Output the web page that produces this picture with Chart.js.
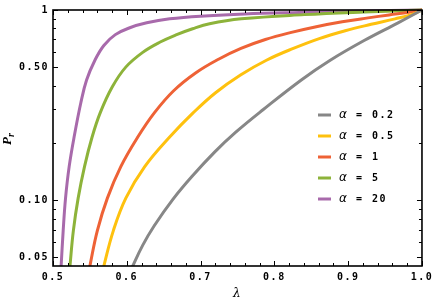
<!DOCTYPE html>
<html>
<head>
<meta charset="utf-8">
<script src="https://cdn.jsdelivr.net/npm/chart.js@4.4.1/dist/chart.umd.min.js"></script>
<style>
  html,body{margin:0;padding:0;background:#fff;}
  #wrap{width:436px;height:301px;}
</style>
</head>
<body>
<div id="wrap"><canvas id="myChart"></canvas></div>
<script>
// series labels and colours
const alphas = ['0.2', '0.5', '1', '5', '20'];
const colors = ['#878787', '#fec10e', '#ee6236', '#8db33a', '#a86aab'];

// lambda / Pr values
const lam02 = [0.6047, 0.6081, 0.6215, 0.6372, 0.6627, 0.6882, 0.7193, 0.7477, 0.7850, 0.8365, 0.8757, 0.9216, 0.9676, 1.0];
const pr02  = [0.0418, 0.0450, 0.0578, 0.0733, 0.1012, 0.1331, 0.1794, 0.2278, 0.2996, 0.4286, 0.5442, 0.6909, 0.856, 1.0];

const lam05 = [0.5673, 0.5689, 0.5818, 0.5987, 0.6243, 0.6581, 0.6905, 0.7203, 0.7541, 0.7892, 0.8257, 0.8608, 0.8960, 0.9311, 0.9635, 0.9865, 1.0];
const pr05  = [0.0418, 0.0450, 0.0691, 0.1024, 0.150, 0.2146, 0.2892, 0.3671, 0.4550, 0.5442, 0.6281, 0.7076, 0.7784, 0.8410, 0.8983, 0.9477, 1.0];

const lam1 = [0.5485, 0.5500, 0.5601, 0.5737, 0.5919, 0.6149, 0.6378, 0.6635, 0.6932, 0.7243, 0.7547, 0.7878, 0.8216, 0.8568, 0.8919, 0.9270, 0.9554, 0.9824, 1.0];
const pr1  = [0.0418, 0.0450, 0.0691, 0.1024, 0.150, 0.2146, 0.2892, 0.3759, 0.4661, 0.5507, 0.6281, 0.6993, 0.7601, 0.8165, 0.8666, 0.9090, 0.9421, 0.9729, 1.0];

const lam5 = [0.5223, 0.5230, 0.5276, 0.5341, 0.5427, 0.5530, 0.5642, 0.5804, 0.5986, 0.6216, 0.6453, 0.6676, 0.6892, 0.7122, 0.7550, 0.8405, 0.9216, 1.0];
const pr5  = [0.0418, 0.0450, 0.0691, 0.1024, 0.150, 0.2146, 0.2892, 0.3944, 0.5006, 0.5987, 0.6784, 0.742, 0.797, 0.8462, 0.8983, 0.9455, 0.9764, 1.0];

const lam20 = [0.5105, 0.5110, 0.5138, 0.5170, 0.5219, 0.5291, 0.5378, 0.5455, 0.5568, 0.5689, 0.5845, 0.6041, 0.6270, 0.6581, 0.7054, 0.7595, 0.8338, 0.9149, 1.0];
const pr20  = [0.0418, 0.0450, 0.0691, 0.1024, 0.150, 0.2198, 0.326, 0.4286, 0.5442, 0.6509, 0.742, 0.8068, 0.8563, 0.8983, 0.9309, 0.9534, 0.9706, 0.9858, 1.0];

// ticks
const xTicks = [];
for (let i = 0; i <= 25; i++) xTicks.push(+(0.5 + i * 0.02).toFixed(2));
const xMajor = [0.5, 0.6, 0.7, 0.8, 0.9, 1.0];
const yTicks = [0.05, 0.06, 0.07, 0.08, 0.09, 0.1, 0.2, 0.3, 0.4, 0.5, 0.6, 0.7, 0.8, 0.9, 1];
const yLabels = {1: '1', 0.5: '0.50', 0.1: '0.10', 0.05: '0.05'};

const lams = [lam02, lam05, lam1, lam5, lam20];
const prs = [pr02, pr05, pr1, pr5, pr20];

const tickFont = {family: '"DejaVu Sans Mono"', size: 10, weight: 'bold'};

const framePlugin = {
  id: 'frame',
  beforeDraw(chart) {
    chart.ctx.letterSpacing = '1.5px';
  },
  afterDraw(chart) {
    const {ctx, chartArea: a, scales: {x, y}} = chart;
    ctx.save();
    ctx.strokeStyle = '#000';
    ctx.lineWidth = 1;
    xTicks.forEach(v => {
      const px = Math.round(x.getPixelForValue(v)) + 0.5;
      const len = xMajor.some(m => Math.abs(m - v) < 1e-6) ? 5 : 3;
      ctx.beginPath();
      ctx.moveTo(px, a.bottom); ctx.lineTo(px, a.bottom - len);
      ctx.moveTo(px, a.top); ctx.lineTo(px, a.top + len);
      ctx.stroke();
    });
    yTicks.forEach(v => {
      const py = Math.round(y.getPixelForValue(v)) + 0.5;
      const len = yLabels[v] ? 5 : 3;
      ctx.beginPath();
      ctx.moveTo(a.left, py); ctx.lineTo(a.left + len, py);
      ctx.moveTo(a.right, py); ctx.lineTo(a.right - len, py);
      ctx.stroke();
    });
    ctx.lineWidth = 1.6;
    ctx.strokeRect(a.left, a.top, a.right - a.left, a.bottom - a.top);

    // y axis title P with subscript r
    ctx.save();
    ctx.letterSpacing = '0px';
    ctx.fillStyle = '#000';
    ctx.translate(11, 145);
    ctx.rotate(-Math.PI / 2);
    ctx.textBaseline = 'alphabetic';
    ctx.font = 'italic bold 13px "Liberation Serif"';
    ctx.fillText('P', 0, 0);
    const pw = ctx.measureText('P').width;
    ctx.font = 'italic bold 10px "Liberation Serif"';
    ctx.fillText('r', pw, 3);
    ctx.restore();

    // legend inside the plot
    ctx.textBaseline = 'middle';
    chart.data.datasets.forEach((ds, i) => {
      const ly = 115 + i * 21;
      ctx.strokeStyle = ds.borderColor;
      ctx.lineWidth = 3;
      ctx.beginPath();
      ctx.moveTo(318, ly); ctx.lineTo(331, ly);
      ctx.stroke();
      ctx.fillStyle = '#000';
      ctx.letterSpacing = '0px';
      ctx.font = 'italic 12px "DejaVu Sans"';
      ctx.fillText('α', 339, ly);
      ctx.letterSpacing = '1.5px';
      ctx.font = 'bold 10px "DejaVu Sans Mono"';
      ctx.fillText('=', 356, ly);
      ctx.fillText(alphas[i], 372, ly);
    });
    ctx.restore();
  }
};

const ctx = document.getElementById('myChart');

new Chart(ctx, {
  type: 'line',
  data: {
    datasets: alphas.map((a, i) => ({
      label: 'α = ' + a,
      data: lams[i].map((l, j) => ({x: l, y: prs[i][j]})),
      borderColor: colors[i],
      borderWidth: 3,
      pointRadius: 0,
      fill: false,
      tension: 0.4,
      clip: {left: 0, top: 2, right: 2, bottom: 0}
    }))
  },
  options: {
    responsive: true,
    maintainAspectRatio: false,
    animation: false,
    layout: {padding: {top: 6, right: 13, left: 0, bottom: 0}},
    plugins: {legend: {display: false}, tooltip: {enabled: false}},
    scales: {
      x: {
        type: 'linear',
        min: 0.5, max: 1.0,
        grid: {display: false, drawTicks: false},
        border: {display: false},
        afterBuildTicks: s => { s.ticks = xTicks.map(v => ({value: v})); },
        afterFit: s => { s.height = 35; },
        ticks: {
          autoSkip: false, maxRotation: 0, padding: 5,
          color: '#000', font: tickFont,
          callback: v => xMajor.some(m => Math.abs(m - v) < 1e-6) ? v.toFixed(1) : ''
        },
        title: {display: true, text: 'λ', color: '#000',
          font: {family: '"DejaVu Serif"', size: 12, style: 'italic'},
          padding: {top: 0, bottom: 0}}
      },
      y: {
        type: 'logarithmic',
        min: 0.045, max: 1,
        grid: {display: false, drawTicks: false},
        border: {display: false},
        afterBuildTicks: s => { s.ticks = yTicks.map(v => ({value: v})); },
        afterFit: s => { s.width = 53; },
        ticks: {
          autoSkip: false, padding: 4,
          color: '#000', font: tickFont,
          callback: v => yLabels[v] || ''
        }
      }
    }
  },
  plugins: [framePlugin]
});
</script>
</body>
</html>
